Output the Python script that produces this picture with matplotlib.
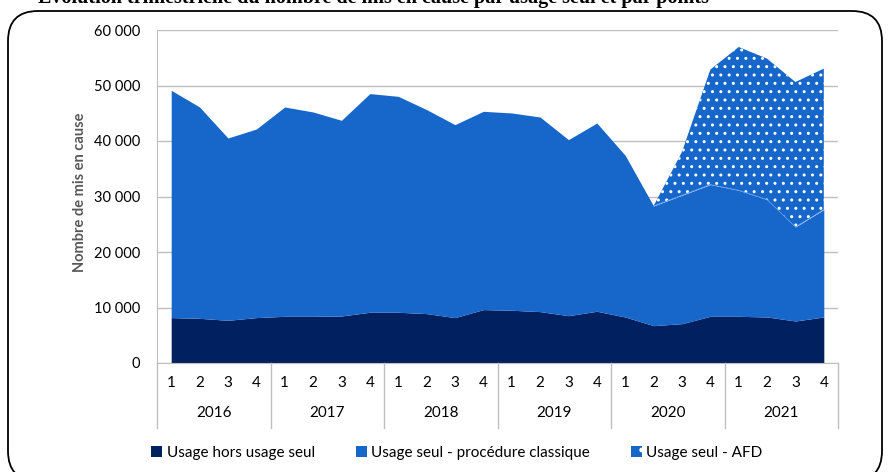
import matplotlib.pyplot as plt
import matplotlib.patches as mpatches
import matplotlib.transforms as mtransforms
import numpy as np

# data
years = ['2016', '2017', '2018', '2019', '2020', '2021']
quarters = ['1', '2', '3', '4']
hors_usage = [8180, 8050, 7690, 8180, 8410, 8410, 8470, 9140,
              9140, 8900, 8180, 9620, 9500, 9260, 8530, 9320,
              8290, 6730, 7090, 8410, 8410, 8290, 7570, 8290]
classique = [40960, 38080, 32850, 33980, 37720, 36820, 35260, 39400,
             38910, 36760, 34770, 35730, 35550, 35060, 31720, 33920,
             29130, 21560, 23130, 23730, 22710, 21150, 16940, 19350]
afd = [0, 0, 0, 0, 0, 0, 0, 0,
       0, 0, 0, 0, 0, 0, 0, 0,
       0, 0, 7800, 20720, 25820, 25400, 26120, 25400]
labels = ['Usage hors usage seul', 'Usage seul - procédure classique', 'Usage seul - AFD']
title = "Évolution trimestrielle du nombre de mis en cause par usage seul et par points"

dark = '#00205f'
blue = '#1667c9'
grid_col = '#bfbfbf'

plt.rcParams['font.family'] = ['Lato', 'DejaVu Sans']
plt.rcParams['hatch.color'] = 'white'
plt.rcParams['hatch.linewidth'] = 1.0

fig = plt.figure(figsize=(8.9, 4.72), dpi=100)
W, H = 890, 472
ax = fig.add_axes([157 / W, 1 - 363 / H, (838 - 157) / W, (363 - 30) / H])

x = np.arange(len(hors_usage))
b1 = np.array(hors_usage)
b2 = b1 + np.array(classique)
b3 = b2 + np.array(afd)

ax.fill_between(x, 0, b1, color=dark, linewidth=0, zorder=2)
ax.fill_between(x, b1, b2, color=blue, linewidth=0, zorder=2)
ax.fill_between(x, b2, b3, facecolor=blue, edgecolor='white', hatch='..',
                linewidth=0, zorder=2)
ax.plot(x[17:], b2[17:], color='#5b9bf0', linewidth=0.5, zorder=3)

ax.set_xlim(-0.5, len(x) - 0.5)
ax.set_ylim(0, 60000)
ax.set_yticks(np.arange(0, 60001, 10000))
ax.set_yticklabels([f"{v:,}".replace(',', ' ') for v in range(0, 60001, 10000)])
ax.yaxis.grid(True, color=grid_col, linewidth=1, zorder=0)
ax.set_axisbelow(True)
ax.tick_params(axis='y', length=0, pad=12, labelsize=10.5)
ax.set_xticks([])
for s in ['top', 'right']:
    ax.spines[s].set_visible(False)
for s in ['left', 'bottom']:
    ax.spines[s].set_color(grid_col)

# two-level category axis
trans = mtransforms.blended_transform_factory(ax.transData, ax.transAxes)
for i in x:
    ax.text(i, -20 / 333, quarters[i % 4], transform=trans, ha='center',
            va='center', fontsize=11)
for k, yr in enumerate(years):
    ax.text(4 * k + 1.5, -50 / 333, yr, transform=trans, ha='center',
            va='center', fontsize=11)
for k in range(len(years) + 1):
    ax.plot([4 * k - 0.5, 4 * k - 0.5], [0, -65 / 333], transform=trans,
            color=grid_col, linewidth=1, clip_on=False)

fig.text(80 / W, 1 - 192 / H, 'Nombre de mis en cause', rotation=90,
         ha='center', va='center', color='#595959', fontsize=10.5,
         fontweight='bold')

handles = [mpatches.Patch(facecolor=dark),
           mpatches.Patch(facecolor=blue),
           mpatches.Patch(facecolor=blue, edgecolor='white', hatch='.', linewidth=0)]
fig.legend(handles, labels, loc='center', bbox_to_anchor=(457 / W, 1 - 453 / H),
           ncol=3, frameon=False, fontsize=11, handlelength=0.7,
           handleheight=0.7, handletextpad=0.3, columnspacing=2.7)

# clipped title at the very top and rounded frame
fig.text(373 / W, 1 - 2.5 / H, title, ha='center', va='baseline',
         fontsize=14.5, fontweight='bold', family=['Liberation Serif', 'DejaVu Serif'])
frame = mpatches.FancyBboxPatch((8, -9), 874, H - 11 + 9,
                                boxstyle='round,pad=0,rounding_size=30',
                                transform=None, facecolor='none',
                                edgecolor='black', linewidth=1.3)
fig.patches.append(frame)

fig.savefig('out.png', dpi=100)
